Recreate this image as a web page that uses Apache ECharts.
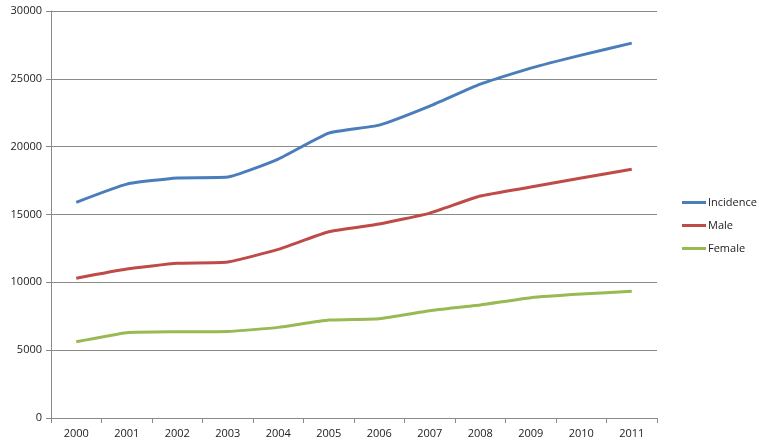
<!DOCTYPE html>
<html>
<head>
<meta charset="utf-8">
<script src="https://cdn.jsdelivr.net/npm/echarts@6/dist/echarts.min.js"></script>
<style>
  html, body { margin: 0; padding: 0; background: #fff; }
  #chart { width: 759px; height: 443px; }
</style>
</head>
<body>
<div id="chart"></div>
<script>
const years = ['2000', '2001', '2002', '2003', '2004', '2005', '2006', '2007', '2008', '2009', '2010', '2011'];
const incidence = [15900, 17240, 17690, 17760, 19090, 21000, 21590, 22990, 24610, 25790, 26750, 27630];
const male = [10300, 10980, 11400, 11500, 12430, 13730, 14300, 15100, 16360, 17020, 17690, 18330];
const female = [5620, 6290, 6360, 6380, 6680, 7220, 7320, 7910, 8330, 8870, 9140, 9340];

const chart = echarts.init(document.getElementById('chart'));

const font = 'Open Sans';
const lineSeries = (name, data, color) => ({
    name: name,
    type: 'line',
    data: data,
    smooth: 0.15,
    showSymbol: false,
    symbol: 'none',
    lineStyle: { color: color, width: 3 },
    itemStyle: { color: color }
});

chart.setOption({
    animation: false,
    grid: { left: 51, right: 102, top: 11, bottom: 25 },
    legend: {
        orient: 'vertical',
        left: 677,
        top: 192,
        icon: 'rect',
        itemWidth: 24,
        itemHeight: 3,
        itemGap: 12,
        textStyle: { fontFamily: font, fontSize: 11, color: '#222', padding: [0, 0, 0, -3] },
        data: ['Incidence', 'Male', 'Female']
    },
    xAxis: {
        type: 'category',
        data: years,
        boundaryGap: true,
        axisLine: { lineStyle: { color: '#8a8a8a', width: 1 } },
        axisTick: { show: true, length: 5, lineStyle: { color: '#8a8a8a' } },
        axisLabel: { fontFamily: font, fontSize: 11, color: '#222', margin: 10 }
    },
    yAxis: {
        type: 'value',
        min: 0,
        max: 30000,
        interval: 5000,
        axisLine: { show: true, lineStyle: { color: '#8a8a8a', width: 1 } },
        axisTick: { show: true, length: 5, lineStyle: { color: '#8a8a8a' } },
        axisLabel: { fontFamily: font, fontSize: 11, color: '#222', margin: 9, formatter: v => String(v) },
        splitLine: { lineStyle: { color: '#8a8a8a', width: 1 } }
    },
    series: [
        lineSeries('Incidence', incidence, '#4A7EBB'),
        lineSeries('Male', male, '#BE4B48'),
        lineSeries('Female', female, '#98B954')
    ]
});
</script>
</body>
</html>
